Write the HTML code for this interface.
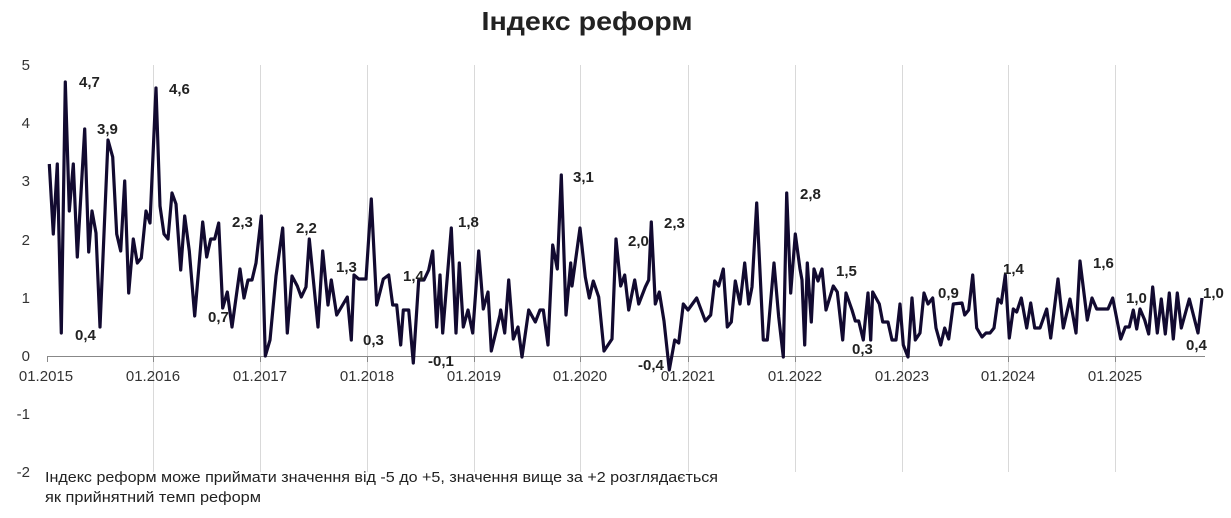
<!DOCTYPE html>
<html><head><meta charset="utf-8"><style>
body{margin:0;background:#fff;width:1231px;height:513px;overflow:hidden;font-family:"Liberation Sans",sans-serif}
</style></head><body>
<svg width="1231" height="513" xmlns="http://www.w3.org/2000/svg" font-family="Liberation Sans, sans-serif">
<text x="587" y="30" text-anchor="middle" font-size="26" font-weight="bold" fill="#222" textLength="211" lengthAdjust="spacingAndGlyphs">Індекс реформ</text>
<g stroke="#d9d9d9" stroke-width="1">
<line x1="153.5" y1="65" x2="153.5" y2="472"/><line x1="260.5" y1="65" x2="260.5" y2="472"/><line x1="367.5" y1="65" x2="367.5" y2="472"/><line x1="474.5" y1="65" x2="474.5" y2="472"/><line x1="580.5" y1="65" x2="580.5" y2="472"/><line x1="688.5" y1="65" x2="688.5" y2="472"/><line x1="795.5" y1="65" x2="795.5" y2="472"/><line x1="902.5" y1="65" x2="902.5" y2="472"/><line x1="1008.5" y1="65" x2="1008.5" y2="472"/><line x1="1115.5" y1="65" x2="1115.5" y2="472"/>
</g>
<g stroke="#888" stroke-width="1"><line x1="47" y1="356.5" x2="1205" y2="356.5"/>
<line x1="47.5" y1="356" x2="47.5" y2="362"/><line x1="153.5" y1="356" x2="153.5" y2="362"/><line x1="260.5" y1="356" x2="260.5" y2="362"/><line x1="367.5" y1="356" x2="367.5" y2="362"/><line x1="474.5" y1="356" x2="474.5" y2="362"/><line x1="580.5" y1="356" x2="580.5" y2="362"/><line x1="688.5" y1="356" x2="688.5" y2="362"/><line x1="795.5" y1="356" x2="795.5" y2="362"/><line x1="902.5" y1="356" x2="902.5" y2="362"/><line x1="1008.5" y1="356" x2="1008.5" y2="362"/><line x1="1115.5" y1="356" x2="1115.5" y2="362"/></g>
<g font-size="15" fill="#333" text-anchor="end">
<text x="30" y="70">5</text><text x="30" y="128">4</text><text x="30" y="186">3</text><text x="30" y="245">2</text><text x="30" y="303">1</text><text x="30" y="361">0</text><text x="30" y="419">-1</text><text x="30" y="477">-2</text></g>
<g font-size="15" fill="#333" text-anchor="middle">
<text x="46" y="381">01.2015</text><text x="153" y="381">01.2016</text><text x="260" y="381">01.2017</text><text x="367" y="381">01.2018</text><text x="474" y="381">01.2019</text><text x="580" y="381">01.2020</text><text x="688" y="381">01.2021</text><text x="795" y="381">01.2022</text><text x="902" y="381">01.2023</text><text x="1008" y="381">01.2024</text><text x="1115" y="381">01.2025</text></g>
<polyline fill="none" stroke="#120a30" stroke-width="3.2" stroke-linejoin="round" points="49.3,164 53.3,234 57.3,164 61.3,333 65.3,82 69.3,211 73.3,164 77.3,257 84.7,129 88.7,252 92,211 96,233 100,327 108,140 112.7,157 116.7,234 120.7,251 124.7,181 128.7,293 133.3,239 137.3,263 141.3,258 146,211 150,223 156,88 160,206 164,234 168,239 172,193 176,204 180.7,270 184.7,216 189.3,251 194.7,316 202.7,222 206.7,257 210.7,239 214.7,239 218.7,223 222.7,308 227.3,292 232,327 240,269 244,298 248,280 252,280 256,263 261.3,216 265.3,356 270,340 276,276 282.7,228 287.3,333 292,276 297.3,286 301.3,297 306,287 309.3,239 318,327 322.7,251 328,305 331.3,280 336.7,315 347.3,297 351.3,340 354,275 358.7,279 366,279 371.3,199 376.7,305 383.3,279 388.7,275 392.7,305 396.7,305 400.7,345 403.3,310 408.7,310 413.3,363 418.7,280 424,280 428.7,270 432.7,251 436.7,327 440,275 442.7,333 451.3,228 456,333 459.3,263 463.3,327 468,310 472.7,333 478.7,251 483.3,309 488,292 491.3,351 500,315 500.7,310 504.7,333 508.7,280 513.3,339 518,327 522,357 528.7,310 535.3,322 540,310 543.3,310 548,345 552.7,245 557.3,269 561.3,175 566,315 570.7,263 572,286 580,228 585.3,277 589.3,298 593.3,281 598.7,297 604,351 612,339 616,239 620.7,286 624.7,275 628.7,310 634.7,280 638.7,304 645.3,287 648.7,280 651.3,222 655.3,304 659.3,292 664,321 669.3,370 674.7,340 678.7,343 683.3,304 688,310 696.7,298 705.3,321 710.7,315 714.7,281 718.7,286 723.3,269 727.3,327 731.3,322 735.3,281 740,304 744.7,263 748.7,304 752,287 756.7,203 763.3,340 767.3,340 774,263 778.7,317 783.3,357 786.7,193 790.7,293 795.3,234 800,269 802,280 804.7,345 807.3,263 811.3,322 814,269 818,281 822,269 826,310 833.3,286 837.3,292 842.7,340 846,293 852,310 855.3,321 858.7,321 863.3,340 868,293 870.7,340 872.7,292 879.3,304 882.7,322 888,322 892,340 896,340 900,304 903.3,345 908,357 912,298 915.3,340 920,333 924,293 928,304 932.7,298 936,328 940.7,345 944.7,328 948.7,339 953.3,304 962,303 964.7,315 968.7,310 972.7,275 976.7,328 982,337 986,333 990,333 994,328 998,299 1001.3,303 1005.3,275 1009.3,338 1013.3,309 1016.7,312 1021.3,298 1026.7,328 1030.7,303 1034.7,328 1040,328 1046.7,309 1050.7,338 1058,279 1063.3,328 1070,299 1076,333 1080,261 1087.3,320 1092,298 1096.7,309 1108,309 1112.7,298 1120.7,339 1125.3,327 1129.3,327 1133.3,310 1136.7,329 1140,309 1144.7,320 1148.7,334 1152.7,287 1157.3,333 1161.3,299 1165.3,334 1169.3,293 1173.3,339 1177.3,293 1181.3,328 1189.3,299 1198,333 1202,298"/>
<g font-size="15" font-weight="bold" fill="#222">
<text x="79" y="87">4,7</text><text x="97" y="134">3,9</text><text x="75" y="340">0,4</text><text x="169" y="94">4,6</text><text x="232" y="227">2,3</text><text x="208" y="322">0,7</text><text x="296" y="233">2,2</text><text x="336" y="272">1,3</text><text x="363" y="345">0,3</text><text x="403" y="281">1,4</text><text x="428" y="366">-0,1</text><text x="458" y="227">1,8</text><text x="573" y="182">3,1</text><text x="628" y="246">2,0</text><text x="664" y="228">2,3</text><text x="638" y="370">-0,4</text><text x="800" y="199">2,8</text><text x="836" y="276">1,5</text><text x="852" y="354">0,3</text><text x="938" y="298">0,9</text><text x="1003" y="274">1,4</text><text x="1093" y="268">1,6</text><text x="1126" y="303">1,0</text><text x="1186" y="350">0,4</text><text x="1203" y="298">1,0</text></g>
<text x="45" y="482" font-size="15" fill="#222" textLength="673" lengthAdjust="spacingAndGlyphs">Індекс реформ може приймати значення від -5 до +5, значення вище за +2 розглядається</text>
<text x="45" y="502" font-size="15" fill="#222" textLength="216" lengthAdjust="spacingAndGlyphs">як прийнятний темп реформ</text>
</svg>
</body></html>
